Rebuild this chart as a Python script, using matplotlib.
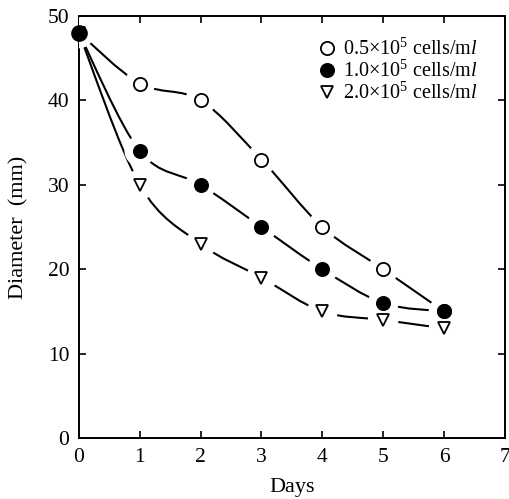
import matplotlib
matplotlib.use('Agg')
import matplotlib.pyplot as plt
from matplotlib.path import Path
from matplotlib.patches import PathPatch
import numpy as np

plt.rcParams['font.family'] = 'Liberation Serif'
plt.rcParams['mathtext.fontset'] = 'custom'
plt.rcParams['mathtext.rm'] = 'Liberation Serif'
plt.rcParams['mathtext.it'] = 'Liberation Serif:italic'

# diameter (mm) over days for three seeding densities
days = [0, 1, 2, 3, 4, 5, 6]
low_density = [48, 42, 40, 33, 25, 20, 15]
mid_density = [48, 34, 30, 25, 20, 16, 15]
high_density = [48, 30, 23, 19, 15, 14, 13]

labels = [r'0.5$\times$10$^5$ cells/m$l$',
          r'1.0$\times$10$^5$ cells/m$l$',
          r'2.0$\times$10$^5$ cells/m$l$']


def smooth_path(x, y):
    # Catmull-Rom curve through the points, written as cubic Bezier segments
    p = np.column_stack([x, y]).astype(float)
    verts = [p[0]]
    codes = [Path.MOVETO]
    for i in range(len(p) - 1):
        p0 = p[i - 1] if i > 0 else p[i]
        p3 = p[i + 2] if i + 2 < len(p) else p[i + 1]
        c1 = p[i] + (p[i + 1] - p0) / 6
        c2 = p[i + 1] - (p3 - p[i]) / 6
        verts += [c1, c2, p[i + 1]]
        codes += [Path.CURVE4] * 3
    return Path(verts, codes)


fig = plt.figure(figsize=(5.09, 4.99), dpi=100)
ax = fig.add_axes([0.155, 0.122, 0.837, 0.846])

series = [
    (low_density, dict(marker='o', mfc='white', mec='black', ms=9.5)),
    (mid_density, dict(marker='o', mfc='black', mec='black', ms=9.5)),
    (high_density, dict(marker='v', mfc='white', mec='black', ms=8.5)),
]

for vals, _ in series:
    curve = PathPatch(smooth_path(days, vals), fill=False,
                      edgecolor='black', lw=1.5)
    curve.set_zorder(1)
    ax.add_patch(curve)
# white halos leave a gap between each line and its markers
for vals, _ in series:
    ax.scatter(days, vals, s=22 ** 2, c='white', edgecolors='none', zorder=3)
for (vals, style), label in zip(series, labels):
    ax.plot(days, vals, ls='none', mew=1.3, zorder=4, label=label, **style)
# day 0 starting point
ax.plot([0], [48], ls='none', marker='o', ms=11, mfc='black', mec='black',
        zorder=5, clip_on=False)

ax.set_xlim(0, 7)
ax.set_ylim(0, 50)
ax.set_xticks(range(0, 8))
ax.set_yticks(range(0, 51, 10))
ax.tick_params(direction='in', top=True, right=True, length=5, width=1.2,
               labelsize=15.5, pad=7)
for s in ax.spines.values():
    s.set_linewidth(1.4)

ax.set_xlabel('Days', fontsize=16, labelpad=8)
ax.set_ylabel('Diameter  (mm)', fontsize=16, labelpad=14)

ax.legend(loc='upper right', bbox_to_anchor=(0.965, 0.975), frameon=False,
          fontsize=14.5, handletextpad=0.3, labelspacing=0.05,
          handlelength=1.0, borderaxespad=0.2)

fig.savefig('out.png', dpi=100)
